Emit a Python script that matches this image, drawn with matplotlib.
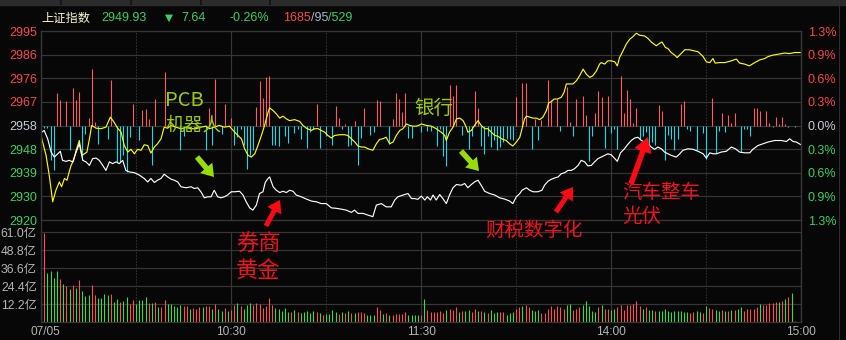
import numpy as np
import matplotlib
matplotlib.use('Agg')
import matplotlib.pyplot as plt
import matplotlib.transforms as mtransforms
from matplotlib.patches import FancyArrow, Rectangle

plt.rcParams['font.family'] = ['Liberation Sans', 'Noto Sans CJK SC', 'DejaVu Sans']

# ---------------- data ----------------
prev_close = 2957.57
price_lo, price_hi = 2919.97, 2995.17
price_labels = ['2920', '2930', '2939', '2948', '2958', '2967', '2976', '2986', '2995']
pct_labels = ['1.3%', '0.9%', '0.6%', '0.3%', '0.0%', '0.3%', '0.6%', '0.9%', '1.3%']
vol_ticks = [12.2, 24.4, 36.6, 48.8, 61.0]
vol_labels = ['12.2亿', '24.4亿', '36.6亿', '48.8亿', '61.0亿']
time_ticks = [0, 60, 120, 180, 240]
time_labels = ['07/05', '10:30', '11:30', '14:00', '15:00']

header_name = '上证指数'
header_last = '2949.93'
header_chg = '7.64'
header_pct = '-0.26%'
header_up, header_flat, header_down = '1685', '95', '529'

white_t = [0, 1, 2.1, 3.2, 4.2, 5.3, 6.1, 6.8, 7.9, 8.9, 10, 11.1, 12.1, 13.2, 14.2, 15.3, 16.3, 17.4, 18.4, 19.5,
           20.5, 21.6, 22.6, 23.7, 24.7, 25.8, 26.8, 27.9, 29.5, 31.1, 32.6, 33.7, 34.7, 35.8, 36.8, 37.9, 38.9,
           40, 41.1, 42.1, 43.2, 44.2, 45.8, 47.4, 48.4, 49.5, 50.5, 51.6, 52.6, 53.7, 54.7, 55.8, 56.8, 57.9,
           58.9, 60.1, 61.2, 62.7, 63.8, 64.8, 65.9, 66.9, 68, 69, 70.1, 70.8, 71.7, 72.2, 73.3, 74.3, 75.4,
           76.4, 77.5, 78.5, 79.6, 80.6, 82.2, 83.8, 85.4, 87, 88.5, 90.1, 91.7, 93.3, 94.8, 96.4, 98, 99,
           100.1, 101.7, 103.3, 104.8, 105.9, 107.5, 109, 110.6, 111.7, 112.7, 114.3, 115.9, 117, 118, 119,
           120.1, 121.2, 122, 123, 123.8, 124.8, 125.9, 126.9, 128, 129, 130.1, 131.2, 132.7, 133.8, 134.8,
           135.9, 136.9, 138, 139, 140.1, 141.7, 143.3, 144.8, 146.4, 148, 149, 150.1, 151.2, 151.9, 153.3,
           154.3, 155.4, 156.9, 158.2, 159, 160.1, 161.2, 162.2, 163.3, 164.3, 165.4, 166.4, 167.5, 168.5,
           169.6, 170.6, 171.7, 172.7, 173.8, 174.8, 175.9, 176.9, 178, 179, 180.1, 181.2, 182, 183, 184.1,
           185.2, 186.4, 187.5, 188.5, 189.6, 190.6, 191.7, 192.7, 193.8, 194.8, 195.9, 196.9, 198, 199,
           200.6, 201.7, 202.7, 204.3, 205.9, 207.5, 209.1, 210.1, 211.2, 212.2, 213.3, 214.8, 216.4, 218,
           219.3, 220.6, 222.2, 223.8, 224.8, 226.4, 228, 229.6, 231.7, 233.8, 235.4, 236.4, 237.5, 238.5, 240]
white_p = [2954.7, 2955.6, 2952.3, 2947.0, 2945.0, 2946.3, 2947.3, 2943.7, 2943.3, 2943.7, 2943.1, 2947.0, 2950.3,
           2943.7, 2943.1, 2941.7, 2944.4, 2944.6, 2943.7, 2941.7, 2939.7, 2943.1, 2942.4, 2943.1, 2942.4, 2943.7,
           2939.7, 2939.1, 2938.8, 2937.8, 2936.5, 2935.1, 2936.5, 2934.9, 2935.8, 2936.5, 2938.2, 2937.1, 2936.2,
           2935.8, 2935.1, 2933.2, 2932.8, 2933.2, 2932.5, 2932.8, 2931.2, 2928.8, 2929.2, 2929.2, 2931.8, 2929.2,
           2928.8, 2929.2, 2929.9, 2931.2, 2931.2, 2931.4, 2929.9, 2927.2, 2924.8, 2923.9, 2925.9, 2930.5, 2931.2,
           2934.9, 2936.5, 2937.1, 2933.2, 2931.8, 2930.9, 2931.4, 2930.9, 2931.8, 2931.4, 2929.9, 2929.2, 2928.3,
           2927.5, 2927.2, 2926.5, 2926.5, 2924.8, 2924.6, 2924.3, 2923.9, 2923.0, 2923.9, 2922.6, 2922.6, 2921.9,
           2921.3, 2925.9, 2926.5, 2925.2, 2925.2, 2927.9, 2929.2, 2929.9, 2930.5, 2928.5, 2928.5, 2928.2, 2929.5,
           2927.9, 2929.2, 2927.9, 2929.9, 2927.9, 2930.1, 2928.5, 2926.5, 2929.9, 2932.8, 2934.1, 2933.8, 2934.5,
           2932.8, 2934.1, 2935.1, 2935.8, 2933.8, 2931.4, 2930.5, 2929.9, 2928.8, 2928.3, 2927.5, 2926.5, 2929.2,
           2930.5, 2931.8, 2932.8, 2931.8, 2931.2, 2931.2, 2931.8, 2933.8, 2935.4, 2936.2, 2936.7, 2937.1, 2938.4,
           2938.8, 2939.7, 2939.7, 2940.4, 2941.7, 2943.7, 2943.1, 2941.5, 2941.7, 2943.1, 2944.4, 2945.0, 2945.7,
           2946.3, 2945.9, 2944.4, 2943.3, 2946.7, 2948.1, 2949.9, 2951.6, 2952.6, 2952.9, 2951.6, 2951.0, 2950.3,
           2949.0, 2948.1, 2949.0, 2948.3, 2947.0, 2946.3, 2945.7, 2945.0, 2946.3, 2947.7, 2948.3, 2948.1, 2947.3,
           2946.3, 2944.6, 2946.7, 2946.3, 2946.3, 2947.0, 2947.3, 2949.0, 2948.3, 2947.0, 2946.7, 2946.7, 2948.1,
           2949.6, 2950.3, 2951.0, 2951.6, 2951.6, 2951.2, 2952.3, 2951.2, 2951.0, 2949.9]

yellow_t = [0, 0.5, 1.6, 2.6, 3.7, 4.7, 5.8, 6.5, 7.4, 8.2, 8.9, 9.5, 10.3, 11.1, 12.1, 12.9, 13.7, 14.5, 15.3,
            16, 17.4, 18.9, 20.5, 21.9, 22.9, 24.2, 25.3, 26.3, 27.4, 28.4, 29.5, 30.5, 31.6, 32.6, 33.7, 34.7,
            35.8, 36.8, 37.9, 38.9, 40, 41.1, 42.6, 44.2, 45.8, 47.4, 48.9, 50.5, 52.1, 53.2, 54.7, 56.3, 57.9,
            59.5, 61.2, 62.2, 63.3, 64.3, 65.4, 66.4, 67.5, 68.5, 69.6, 70.6, 71.7, 72.2, 73.3, 74.3, 75.4, 76.4,
            77.5, 78.5, 80.1, 81.7, 82.7, 83.8, 85.4, 86.4, 87.5, 88.5, 89.6, 90.6, 91.7, 92.7, 94.3, 95.9, 96.9,
            98, 99.1, 100.1, 101.2, 102.2, 103.3, 104.8, 105.9, 106.9, 108, 109, 110.1, 111.2, 112.2, 113.3,
            114.3, 115.4, 116.4, 117.5, 118.5, 119.6, 120.1, 121.7, 123.3, 124.8, 126.4, 127.5, 128, 129, 130.1,
            131.2, 132.2, 133.3, 134.3, 134.8, 135.9, 136.9, 138, 139, 140.1, 141.1, 142.2, 143.3, 144.3, 145.4,
            146.9, 148, 149, 150.1, 151.2, 151.9, 152.7, 153.3, 154.3, 155.4, 156.4, 157.5, 158.5, 159.6, 160.3,
            161.2, 162, 163.1, 164.3, 165.2, 165.9, 167, 168, 169.1, 170.1, 171.2, 172.2, 173.3, 174.3, 175.4,
            176.4, 176.9, 178, 179, 180.1, 181.2, 182, 182.7, 183.8, 184.8, 185.9, 186.9, 188, 189, 190.6, 191.7,
            192.7, 194.3, 195.4, 196.1, 197.2, 198, 199, 200.1, 200.9, 202, 203.3, 204.8, 206.2, 207.5, 209.1,
            210.1, 211.2, 212.2, 212.9, 214.3, 215.9, 216.9, 218, 219.6, 220.6, 222.2, 223.7, 225.4, 227, 228.5,
            229.6, 231.2, 232.7, 234.8, 236.4, 238, 240]
yellow_p = [2953.6, 2951.0, 2945.7, 2937.8, 2927.2, 2931.8, 2935.1, 2933.2, 2936.5, 2935.8, 2939.1, 2941.7, 2943.7,
            2947.7, 2951.6, 2945.7, 2946.3, 2947.0, 2952.3, 2957.6, 2956.5, 2956.3, 2956.9, 2960.9, 2959.2, 2956.5,
            2954.9, 2949.6, 2947.0, 2948.1, 2946.3, 2948.1, 2947.7, 2949.9, 2949.6, 2946.6, 2949.0, 2950.3, 2952.3,
            2956.9, 2956.5, 2957.6, 2956.9, 2956.3, 2956.8, 2956.3, 2956.3, 2956.9, 2957.3, 2956.3, 2956.9, 2957.6,
            2956.9, 2957.3, 2954.9, 2953.6, 2952.3, 2948.3, 2945.7, 2945.0, 2946.3, 2949.6, 2953.6, 2957.6, 2962.8,
            2964.6, 2963.5, 2962.2, 2960.5, 2961.3, 2960.2, 2959.5, 2959.9, 2959.2, 2957.6, 2956.5, 2955.6, 2956.3,
            2956.3, 2955.6, 2954.9, 2953.6, 2952.6, 2953.6, 2953.9, 2953.9, 2953.6, 2952.3, 2951.0, 2949.4, 2949.0,
            2949.0, 2948.3, 2947.7, 2950.3, 2952.0, 2952.3, 2952.9, 2950.3, 2951.0, 2953.6, 2955.6, 2956.3, 2958.2,
            2957.6, 2957.3, 2957.3, 2957.8, 2958.2, 2957.6, 2957.3, 2956.3, 2954.9, 2953.6, 2951.6, 2954.9, 2956.9,
            2960.2, 2960.5, 2959.5, 2956.9, 2954.9, 2955.6, 2957.6, 2959.5, 2957.6, 2956.3, 2956.3, 2954.9, 2953.6,
            2953.3, 2952.3, 2951.6, 2950.3, 2949.4, 2951.0, 2952.9, 2956.3, 2960.2, 2961.3, 2960.9, 2960.5, 2960.5,
            2959.9, 2960.9, 2963.5, 2966.5, 2967.1, 2968.1, 2968.1, 2968.8, 2970.8, 2974.1, 2974.1, 2974.1, 2975.4,
            2977.4, 2980.0, 2978.0, 2976.7, 2977.4, 2979.3, 2982.0, 2982.6, 2982.0, 2983.3, 2983.3, 2982.9, 2981.3,
            2984.6, 2987.3, 2989.9, 2991.9, 2992.9, 2994.3, 2993.5, 2993.2, 2992.2, 2990.8, 2989.3, 2990.3, 2990.8,
            2988.6, 2988.2, 2986.6, 2985.6, 2984.6, 2986.0, 2987.7, 2987.7, 2987.3, 2986.9, 2985.0, 2982.9, 2982.6,
            2984.2, 2982.4, 2982.6, 2982.6, 2982.9, 2983.3, 2984.0, 2982.4, 2982.0, 2981.3, 2982.6, 2983.7, 2984.2,
            2985.0, 2985.6, 2985.9, 2986.4, 2986.2, 2986.6, 2986.6]

# buy/sell strength bars around the previous close (red up, cyan down)
strength_t = [5, 6, 8, 10, 11, 12, 15, 16, 17, 22, 29, 32, 33, 34, 36, 39, 53, 55, 58, 60, 68, 69, 70, 71, 72,
              87, 93, 94, 96, 99, 102, 106, 107, 111, 112, 113, 114, 115, 129, 130, 131, 137, 138, 150, 152,
              153, 156, 158, 160, 161, 163, 166, 167, 169, 171, 172, 175, 176, 177, 179, 183, 184, 185, 186,
              187, 188, 195, 196, 202, 203, 212, 215, 217, 218, 219, 225, 226, 227, 229, 230, 232, 233, 234, 235,
              1, 2, 3, 4, 9, 13, 14, 18, 21, 24, 25, 26, 27, 28, 31, 35, 44, 45, 52, 54, 57, 61, 62, 63, 64, 65,
              66, 67, 73, 74, 75, 77, 78, 80, 81, 82, 84, 85, 86, 88, 90, 92, 95, 97, 98, 100, 101, 104, 105, 110,
              116, 117, 120, 122, 123, 125, 126, 127, 128, 133, 135, 136, 139, 140, 141, 142, 143, 144, 145, 146,
              147, 148, 149, 155, 157, 164, 168, 173, 174, 178, 180, 181, 182, 189, 190, 191, 192, 193, 194, 197,
              198, 199, 200, 201, 204, 205, 207, 209, 210, 213, 214, 216, 221, 222, 223, 224, 231, 236, 238]
strength_v = [12.9, 10.2, 9.8, 14.9, 10.2, 13.4, 2.9, 22.6, 1.3, 18.2, 8.6, 6.0, 6.5, 2.4, 10.5, 21.4, 6.9, 18.6,
              8.6, 2.9, 7.3, 17.9, 11.0, 19.3, 19.8, 8.6, 7.7, 2.9, 0.7, 1.8, 6.8, 10.2, 9.6, 2.4, 12.9, 10.6, 5.5,
              12.9, 16.2, 11.8, 16.2, 13.9, 6.8, 11.5, 17.1, 17.1, 2.6, 2.0, 18.2, 10.2, 10.7, 15.3, 1.5, 10.5,
              11.8, 4.3, 4.9, 13.9, 11.5, 11.8, 19.5, 5.0, 14.2, 10.5, 1.0, 6.8, 8.2, 5.6, 8.6, 9.9, 11.0, 4.9,
              4.3, 1.0, 4.9, 6.8, 6.8, 5.6, 5.8, 1.0, 3.3, 0.7, 3.3, 0.7,
              -0.8, -0.8, -13.9, -17.8, -9.9, -13.9, -3.3, -7.3, -5.3, -14.5, -14.5, -11.9, -18.5, -4.6, -5.9,
              -15.8, -9.9, -4.0, -9.9, -7.9, -3.3, -7.9, -4.6, -1.3, -7.9, -17.4, -11.9, -9.9, -7.9, -7.9, -8.2,
              -4.0, -6.9, -2.9, -1.3, -5.3, -9.0, -2.6, -1.3, -9.0, -4.2, -7.9, -1.3, -8.2, -7.9, -15.6, -5.0,
              -3.7, -2.4, -7.3, -4.8, -4.8, -2.6, -2.0, -2.0, -8.2, -1.3, -12.1, -16.1, -3.7, -9.2, -4.0, -8.2,
              -11.2, -4.0, -8.6, -5.9, -9.9, -8.6, -6.6, -5.3, -5.3, -5.9, -9.2, -5.9, -2.0, -4.0, -14.3, -4.2,
              -9.0, -2.9, -1.3, -9.2, -5.3, -4.0, -2.4, -10.6, -6.6, -7.9, -13.9, -3.7, -5.3, -9.9, -5.5, -1.3,
              -2.0, -9.9, -2.9, -13.2, -10.8, -2.0, -2.6, -10.6, -1.3, -1.3, -4.0, -0.7, -0.7, -0.5]

# volume per minute (亿), 09:30 ... 15:00
volume = [15.0, 60.3, 33.7, 35.0, 30.3, 34.6, 29.2, 26.2, 24.9, 22.8,
          25.5, 23.5, 28.9, 21.5, 18.1, 18.8, 25.5, 18.8, 16.7, 16.7,
          19.4, 18.8, 19.4, 14.0, 16.0, 14.0, 14.7, 17.4, 12.7, 15.4,
          12.7, 15.4, 15.4, 17.4, 13.3, 13.3, 14.0, 10.4, 10.6, 15.4,
          12.7, 12.7, 11.3, 10.6, 12.0, 11.3, 11.3, 9.3, 9.9, 9.3,
          10.6, 10.6, 11.3, 11.3, 9.3, 12.7, 9.3, 7.9, 9.9, 7.9,
          8.6, 12.0, 13.3, 11.3, 9.3, 12.0, 13.3, 12.0, 13.3, 12.7,
          9.9, 11.3, 16.7, 12.0, 9.9, 9.3, 7.9, 9.9, 7.2, 7.2,
          8.6, 7.2, 6.6, 7.2, 7.9, 6.6, 7.9, 7.2, 6.6, 5.2,
          5.9, 5.9, 8.6, 7.2, 5.9, 7.2, 6.6, 7.9, 6.6, 6.6,
          7.2, 7.2, 6.6, 5.2, 5.2, 5.2, 10.6, 8.6, 5.9, 6.6,
          5.2, 5.2, 5.9, 5.9, 5.9, 7.2, 5.2, 5.2, 5.2, 5.2,
          5.2,
          16.0, 8.6, 6.8, 6.8, 6.8, 7.5, 6.3, 8.1, 9.3, 8.6,
          10.2, 6.8, 7.5, 7.5, 8.1, 6.8, 9.3, 7.5, 7.5, 6.8,
          6.1, 8.6, 6.3, 6.8, 6.8, 6.8, 5.0, 6.1, 6.8, 9.3,
          10.4, 10.8, 11.5, 10.2, 8.1, 7.5, 8.1, 6.1, 6.3, 9.3,
          10.8, 9.3, 10.8, 10.2, 9.3, 12.0, 12.2, 8.6, 9.3, 10.2,
          11.5, 14.2, 10.8, 7.5, 6.8, 10.2, 11.5, 9.3, 9.3, 8.1,
          9.3, 10.2, 12.0, 8.6, 11.5, 11.5, 12.2, 14.2, 10.8, 9.0,
          10.6, 8.6, 8.1, 7.9, 7.9, 7.5, 9.3, 7.5, 6.8, 7.9,
          7.5, 7.5, 6.8, 6.8, 6.1, 6.8, 7.5, 6.8, 6.1, 10.8,
          9.7, 9.3, 8.6, 7.5, 8.1, 7.9, 7.9, 8.6, 8.1, 9.3,
          10.2, 7.5, 9.3, 9.3, 9.3, 10.2, 12.4, 11.5, 12.0, 13.1,
          13.1, 13.6, 13.8, 14.2, 16.0, 16.9, 19.9, 1.1, 0.0, 30.1]
volume_dir = ('grggggrgrg' 'rgrgggrrgg' 'ggrggrggrr' 'ggggrgrgrr' 'gggggrrgrr' 'rgrrgrggrg'
              'rrgrgggrrr' 'rrrrgggggr' 'grgggggrgr' 'ggggrgrgrg' 'rrrgggrrgr' 'grrrrrgggg' 'r'
              'grrrrrrgrr' 'rgrggrrgrg' 'rgggrrgggr' 'rgrrgggrrr' 'rrrrrggrrr' 'gggggrgrrg'
              'grrrrrrrrg' 'rggrgggggg' 'ggggrrggrg' 'rrggrgrgrg' 'grrrrrgrrr' 'rrgrgrgrrg')

# ---------------- style ----------------
W, H = 846, 340
BG = '#070707'
GRID = '#363636'
DOT = '#4e4e4e'
RED_TXT = '#f24b4b'
GREEN_TXT = '#3ccf62'
NEUTRAL = '#c4ccd8'
LABEL_GRAY = '#b4b4b4'
ONE_PX = 72 / 100  # linewidth in points for one pixel

fig = plt.figure(figsize=(W / 100, H / 100), dpi=100, facecolor=BG)


def px_rect(l, t, r, b):
    return [l / W, 1 - b / H, (r - l) / W, (b - t) / H]


ax1 = fig.add_axes(px_rect(41, 31, 801, 220))
ax2 = fig.add_axes(px_rect(41, 232.3, 801, 322.3))

for ax in (ax1, ax2):
    ax.set_facecolor(BG)
    for s in ax.spines.values():
        s.set_color(GRID)
        s.set_linewidth(ONE_PX * 1.2)
    ax.set_xlim(0, 240)
    for t in [60, 120, 180]:
        ax.axvline(t, color=GRID, lw=ONE_PX * 1.2, zorder=0)
    for t in [30, 90, 150, 210]:
        ax.axvline(t, color=DOT, lw=ONE_PX, ls=(0, (1, 2)), zorder=0)

# price panel
levels = np.linspace(price_lo, price_hi, 9)
ax1.set_ylim(price_lo, price_hi)
for lv in levels[1:-1]:
    ax1.axhline(lv, color=GRID, lw=ONE_PX * 1.2, zorder=0)
ax1.set_xticks([])
ax1.set_yticks(levels)
ax1.set_yticklabels(price_labels)
ax1.tick_params(axis='y', length=0, pad=3, labelsize=9)
lab_colors = [GREEN_TXT] * 4 + [NEUTRAL] + [RED_TXT] * 4
for lab, c in zip(ax1.get_yticklabels(), lab_colors):
    lab.set_color(c)

ax1r = ax1.twinx()
ax1r.set_ylim(price_lo, price_hi)
ax1r.set_yticks(levels)
ax1r.set_yticklabels(pct_labels)
ax1r.tick_params(axis='y', length=0, pad=5, labelsize=9)
for s in ax1r.spines.values():
    s.set_color(GRID)
    s.set_linewidth(ONE_PX * 1.2)
for lab, c in zip(ax1r.get_yticklabels(), lab_colors):
    lab.set_color(c)

st_t = np.array(strength_t)
st_v = np.array(strength_v)
st_col = np.where(st_v > 0, '#ff5c5c', '#14dce8')
ax1.vlines(st_t, prev_close, prev_close + st_v, colors=st_col, lw=ONE_PX * 1.1, zorder=1)
ax1.plot(yellow_t, yellow_p, color='#ffff00', lw=ONE_PX * 1.15, zorder=2)
ax1.plot(white_t, white_p, color='#ffffff', lw=ONE_PX * 1.15, zorder=3)

# volume panel
ax2.set_ylim(0, 61.0)
for v in vol_ticks[:-1]:
    ax2.axhline(v, color=GRID, lw=ONE_PX * 1.2, zorder=0)
ax2.set_yticks(vol_ticks)
ax2.set_yticklabels(vol_labels)
ax2.tick_params(axis='y', length=0, pad=3, labelsize=8.8, labelcolor=LABEL_GRAY)
ax2.set_xticks(time_ticks)
ax2.set_xticklabels(time_labels)
ax2.tick_params(axis='x', length=0, pad=2.5, labelsize=8.6, labelcolor=LABEL_GRAY)
first = ax2.get_xticklabels()[0]
first.set_transform(first.get_transform() + mtransforms.ScaledTranslation(4 / 100, 0, fig.dpi_scale_trans))
vcol = ['#ff4f4f' if d == 'r' else '#36dc48' for d in volume_dir]
ax2.vlines(np.arange(len(volume)), 0, volume, colors=vcol, lw=ONE_PX * 1.1, zorder=1)

# ---------------- overlay (pixel coordinates) ----------------
ov = fig.add_axes([0, 0, 1, 1], zorder=10)
ov.set_xlim(0, W)
ov.set_ylim(H, 0)
ov.axis('off')
ov.patch.set_alpha(0)

ov.add_patch(Rectangle((0, 0), W, 5, color='#2c2c2c', zorder=1))
ov.vlines([61, 131, 201, 270], 0, 5, color='#151515', lw=1.5, zorder=2)
ov.vlines([41, 801], 31, 321, color=GRID, lw=ONE_PX * 1.2)
ov.vlines([839], 0, H, color='#2e2e2e', lw=ONE_PX)

hy = 18
ov.text(41, hy, header_name, color='#f8f6cc', fontsize=8.8, va='center', ha='left', family='Noto Sans CJK SC')
ov.text(101, hy, header_last, color=GREEN_TXT, fontsize=9, va='center', ha='left')
ov.text(165, hy, '▼', color=GREEN_TXT, fontsize=7.5, va='center', ha='left', family='DejaVu Sans')
ov.text(181, hy, header_chg, color=GREEN_TXT, fontsize=9, va='center', ha='left')
ov.text(229, hy, header_pct, color=GREEN_TXT, fontsize=9, va='center', ha='left')
ov.text(283, hy, header_up, color=RED_TXT, fontsize=9, va='center', ha='left')
ov.text(311, hy, '/' + header_flat, color='#a8b4c8', fontsize=9, va='center', ha='left')
ov.text(328, hy, '/' + header_down, color=GREEN_TXT, fontsize=9, va='center', ha='left')

GREEN_NOTE = '#9ccc00'
RED_NOTE = '#ee1420'
cjk = 'Noto Sans CJK SC'
ov.text(165, 101, 'PCB', color=GREEN_NOTE, fontsize=14.5, va='center', ha='left', family=cjk)
ov.text(165, 125, '机器人', color=GREEN_NOTE, fontsize=13.5, va='center', ha='left', family=cjk)
ov.text(414, 108, '银行', color=GREEN_NOTE, fontsize=14, va='center', ha='left', family=cjk)
ov.text(236, 244, '券商', color=RED_NOTE, fontsize=16, va='center', ha='left', family=cjk)
ov.text(236, 271, '黄金', color=RED_NOTE, fontsize=16, va='center', ha='left', family=cjk)
ov.text(485, 230, '财税数字化', color=RED_NOTE, fontsize=14, va='center', ha='left', family=cjk)
ov.text(622, 192, '汽车整车', color=RED_NOTE, fontsize=14, va='center', ha='left', family=cjk)
ov.text(622, 216, '光伏', color=RED_NOTE, fontsize=14, va='center', ha='left', family=cjk)


def arrow(x0, y0, x1, y1, color, w=4.5, hw=15, hl=12):
    ov.add_patch(FancyArrow(x0, y0, x1 - x0, y1 - y0, width=w, head_width=hw, head_length=hl,
                            length_includes_head=True, color=color, lw=0, zorder=5))


ARROW_G = '#99dd00'
ARROW_R = '#ff0a14'
arrow(197, 157, 214, 177, ARROW_G, w=5.5, hw=16, hl=12)
arrow(461, 151, 479, 171, ARROW_G, w=5.5, hw=16, hl=12)
arrow(266, 226, 280, 200, ARROW_R, w=5, hw=16, hl=12)
arrow(556, 212, 573, 187, ARROW_R, w=5, hw=16, hl=12)
arrow(631, 184, 648, 137, ARROW_R, w=5.5, hw=18, hl=15)

fig.savefig('out.png', dpi=100, facecolor=BG)
